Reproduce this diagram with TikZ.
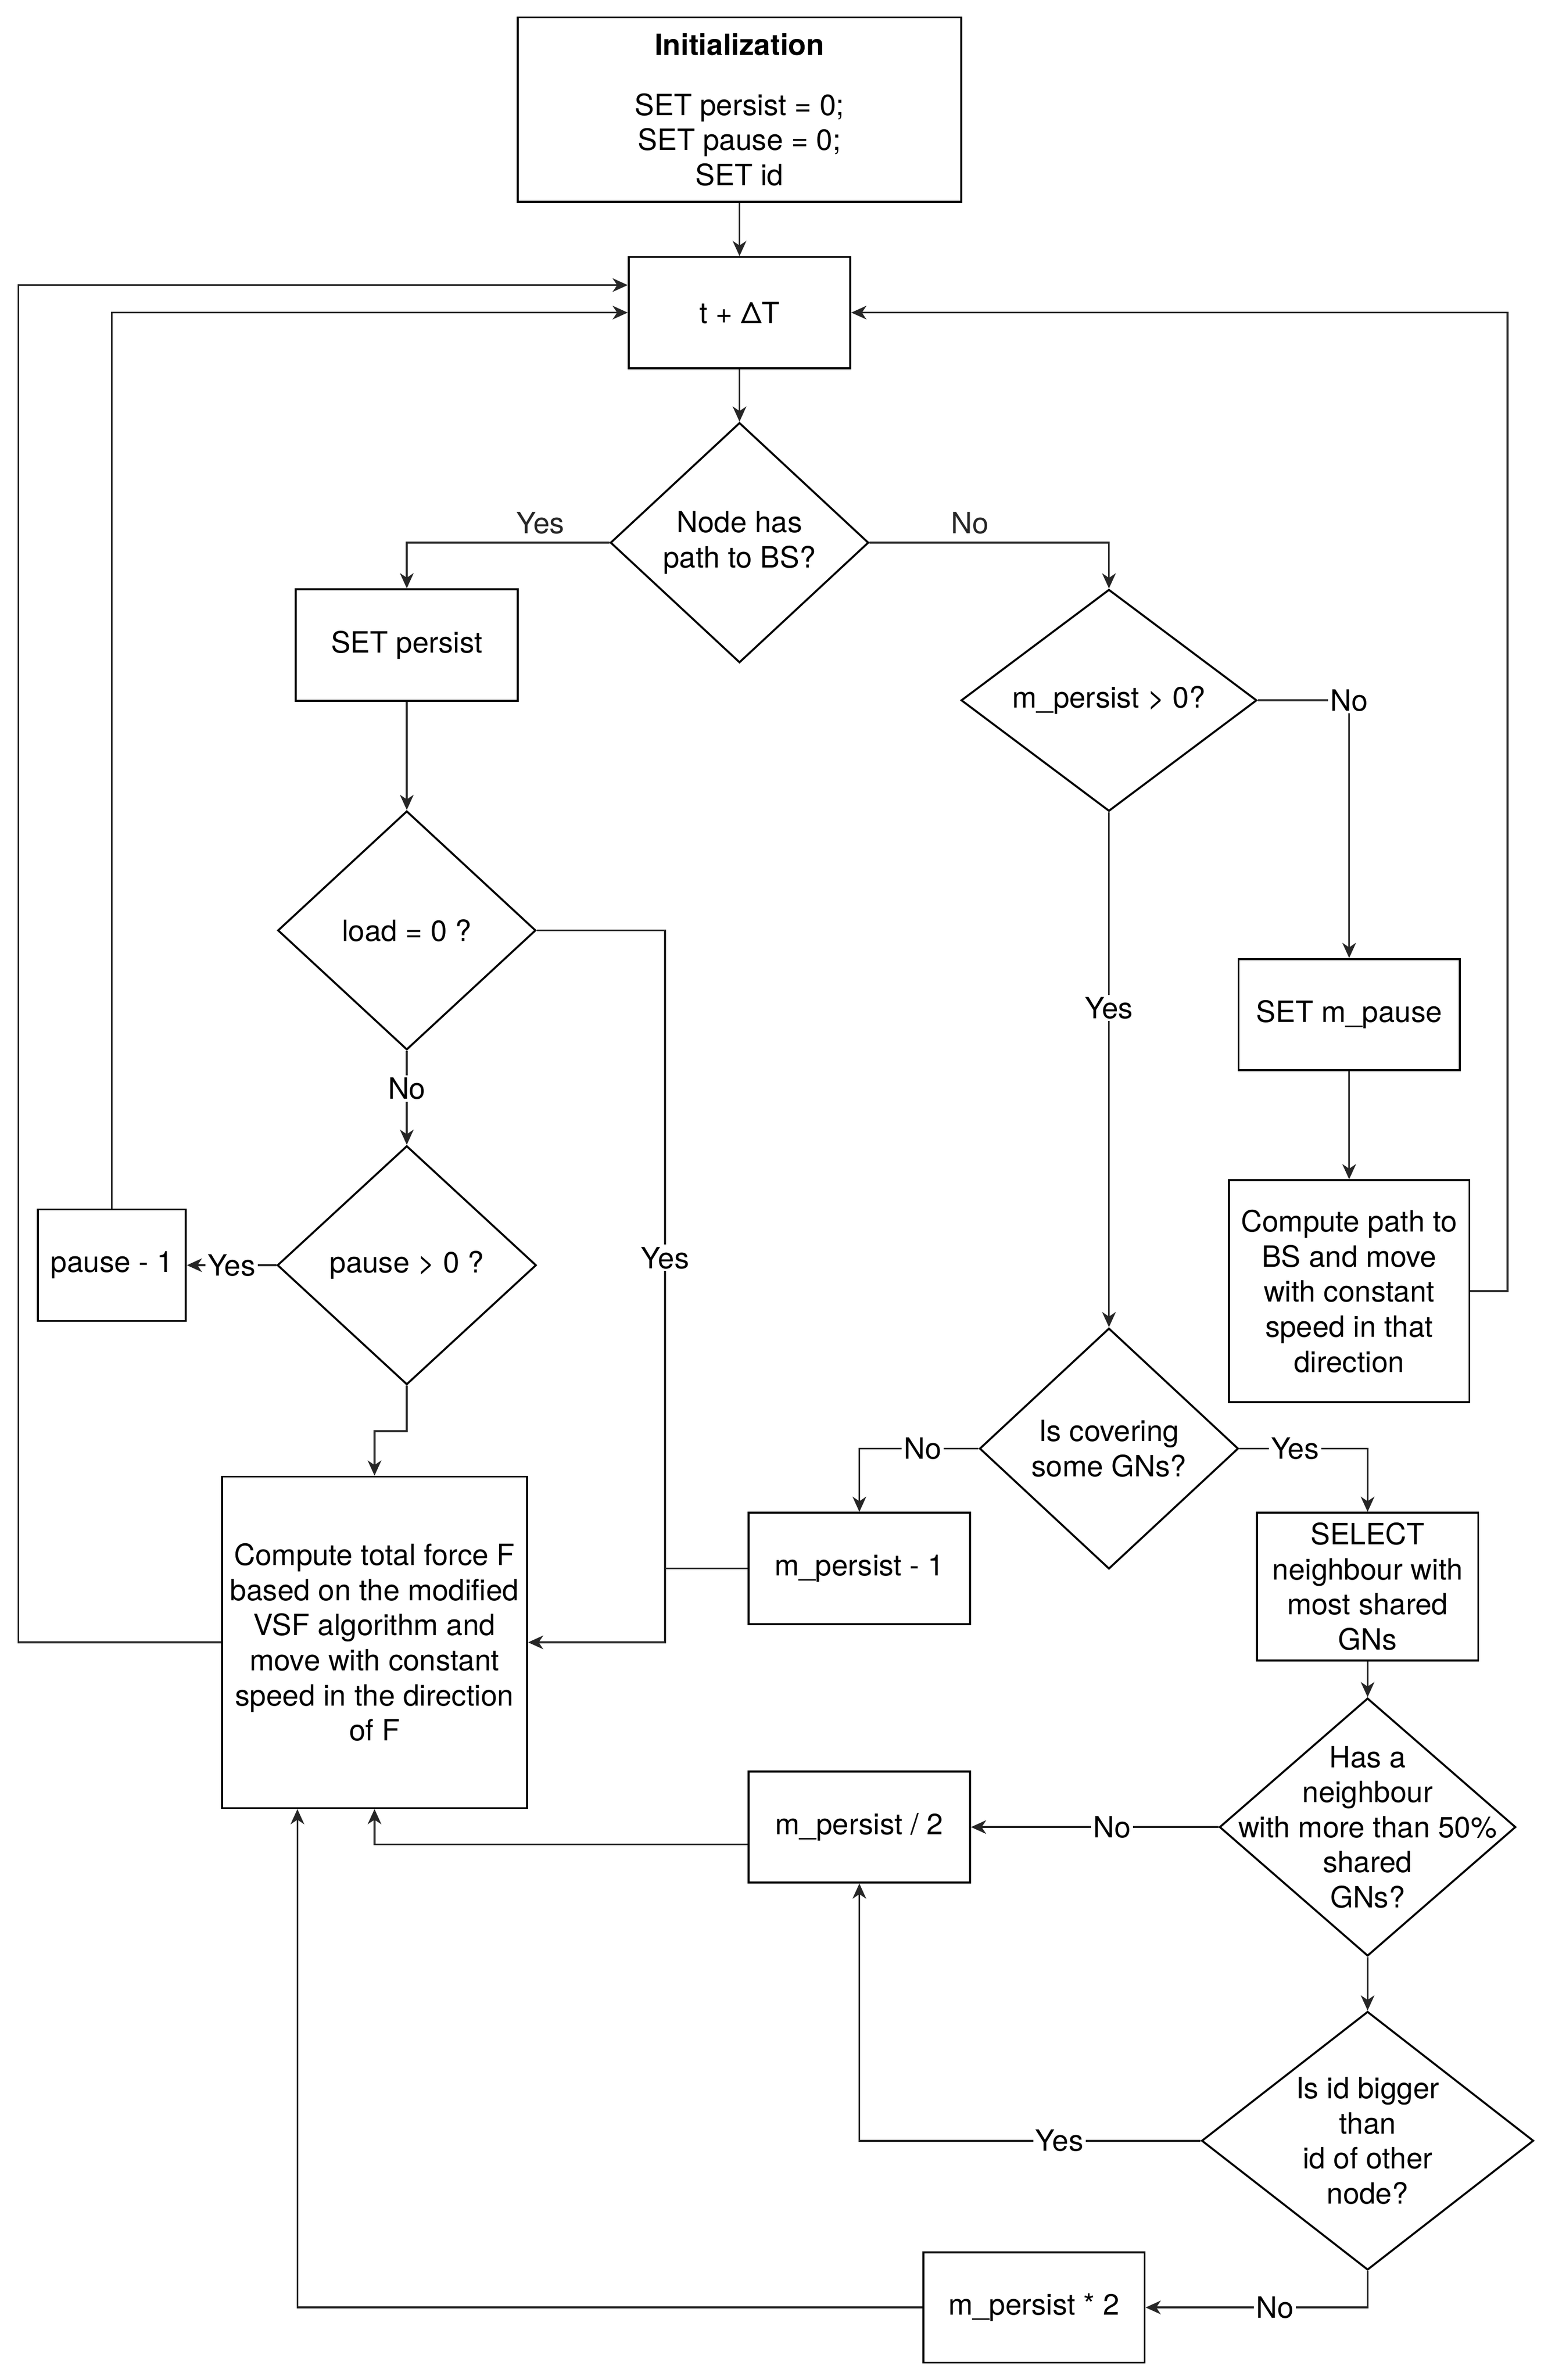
\documentclass[tikz,border=0pt]{standalone}
\usepackage{fontspec}
\setmainfont{TeX Gyre Heros}
\usetikzlibrary{shapes.geometric,arrows.meta}

\begin{document}
\begin{tikzpicture}[x=1pt, y=-1pt,
    font=\fontsize{19.4}{23.2}\selectfont,
    box/.style={draw, line width=1.3pt, inner sep=0pt, align=center},
    dec/.style={draw, diamond, line width=1.3pt, inner sep=0pt},
    flow/.style={line width=1.2pt, black!85, -{Stealth[length=10pt, width=9pt, inset=3pt]}},
    link/.style={line width=1.2pt, black!85},
    lbl/.style={fill=white, inner sep=1.5pt, text=black}]
    % Canvas
    \useasboundingbox (0,0) rectangle (1024,1574.5);

    % Start and time step
    \node[box, minimum width=293.4pt, minimum height=122pt] (init) at (489.2,72.5)
        {\textbf{Initialization}\\[16.6pt] SET persist = 0;\\SET pause = 0;\\SET id};
    \node[box, minimum width=146.6pt, minimum height=73.5pt] (tdt) at (489.2,206.8) {t + ΔT};
    \node[dec, minimum width=170.8pt, minimum height=158.8pt,
        label={[align=center]center:{Node has\\path to BS?}}] (d1) at (489.2,359) {};

    % Left branch
    \node[box, minimum width=146.8pt, minimum height=73.7pt] (setp) at (269.1,426.7) {SET persist};
    \node[dec, minimum width=170.7pt, minimum height=158pt, label=center:{load = 0 ?}] (d2) at (269.1,615.5) {};
    \node[dec, minimum width=171.3pt, minimum height=158pt, label=center:{pause > 0 ?}] (d3) at (269.1,837) {};
    \node[box, minimum width=97.9pt, minimum height=73.8pt] (pm1) at (74,837) {pause - 1};
    \node[box, minimum width=201.9pt, minimum height=219.3pt] (comp) at (247.75,1086.5)
        {Compute total force F\\based on the modified\\VSF algorithm and\\move with constant\\speed in the direction\\of F};
    \coordinate (trunk) at (440,1086.5);

    % Right branch
    \node[dec, minimum width=195.6pt, minimum height=146.7pt, label=center:{m\_persist > 0?}] (d4) at (733.6,463.3) {};
    \node[box, minimum width=146.4pt, minimum height=73.6pt] (setmp) at (892.5,671.2) {SET m\_pause};
    \node[box, minimum width=159.1pt, minimum height=146.8pt] (cpath) at (892.5,854.2)
        {Compute path to\\BS and move\\with constant\\speed in that\\direction};
    \node[dec, minimum width=171.2pt, minimum height=159.3pt,
        label={[align=center]center:{Is covering\\some GNs?}}] (d5) at (733.6,958.3) {};
    \node[box, minimum width=146.4pt, minimum height=73.6pt] (mpm1) at (568.5,1037.6) {m\_persist - 1};
    \node[box, minimum width=146.3pt, minimum height=97.6pt] (sel) at (904.7,1049.6)
        {SELECT\\neighbour with\\most shared\\GNs};
    \node[dec, minimum width=196pt, minimum height=170.6pt,
        label={[align=center]center:{Has a\\neighbour\\with more than 50\%\\shared\\GNs?}}] (d6) at (904.7,1208.7) {};
    \node[box, minimum width=146.4pt, minimum height=73.4pt] (mp2) at (568.5,1208.7) {m\_persist / 2};
    \node[dec, minimum width=219.6pt, minimum height=171pt,
        label={[align=center]center:{Is id bigger\\than\\id of other\\node?}}] (d7) at (904.7,1416.2) {};
    \node[box, minimum width=146.4pt, minimum height=73pt] (mx2) at (684,1526.5) {m\_persist * 2};

    % Main flow
    \draw[flow] (init) -- (tdt);
    \draw[flow] (tdt) -- (d1);
    \draw[flow] (d1.west) -| node[pos=0.17, above, inner sep=5pt]{Yes} (setp.north);
    \draw[flow] (d1.east) -| node[pos=0.21, above, inner sep=5pt]{No} (d4.north);

    % Left branch
    \draw[flow] (setp) -- (d2);
    \draw[flow] (d2) -- node[lbl, pos=0.4]{No} (d3);
    \draw[flow] (d2.east) -| node[lbl, pos=0.73]{Yes} (trunk) -- (comp.east);
    \draw[flow] (d3.west) -- node[lbl]{Yes} (pm1.east);
    \draw[flow] (d3.south) -- ++(0,30.2) -| (comp.north);

    % Loops back to t + dT
    \draw[flow] (pm1.north) |- (tdt.west);
    \draw[flow] (comp.west) -- ++(-134,0) |- ([yshift=18.2pt]tdt.west);
    \draw[flow] (cpath.east) -- ++(24.6,0) |- (tdt.east);

    % Right branch
    \draw[flow] (d4.east) -| node[lbl, pos=0.5]{No} (setmp.north);
    \draw[flow] (d4) -- node[lbl, pos=0.38]{Yes} (d5);
    \draw[flow] (setmp) -- (cpath);
    \draw[flow] (d5.west) -| node[lbl, pos=0.234]{No} (mpm1.north);
    \draw[flow] (d5.east) -| node[lbl, pos=0.217]{Yes} (sel.north);
    \draw[link] (mpm1.west) -- (mpm1.west -| trunk);
    \draw[flow] (sel) -- (d6);
    \draw[flow] (d6.west) -- node[lbl, pos=0.43]{No} (mp2.east);
    \draw[flow] (d6) -- (d7);
    \draw[flow] (d7.west) -| node[lbl, pos=0.207]{Yes} (mp2.south);
    \draw[flow] (d7.south) |- node[lbl, pos=0.709]{No} (mx2.east);

    % Back into the force box
    \draw[flow] ([yshift=-11.4pt]mp2.west) -| (comp.south);
    \draw[flow] (mx2.west) -| ([xshift=-51pt]comp.south);
\end{tikzpicture}
\end{document}
